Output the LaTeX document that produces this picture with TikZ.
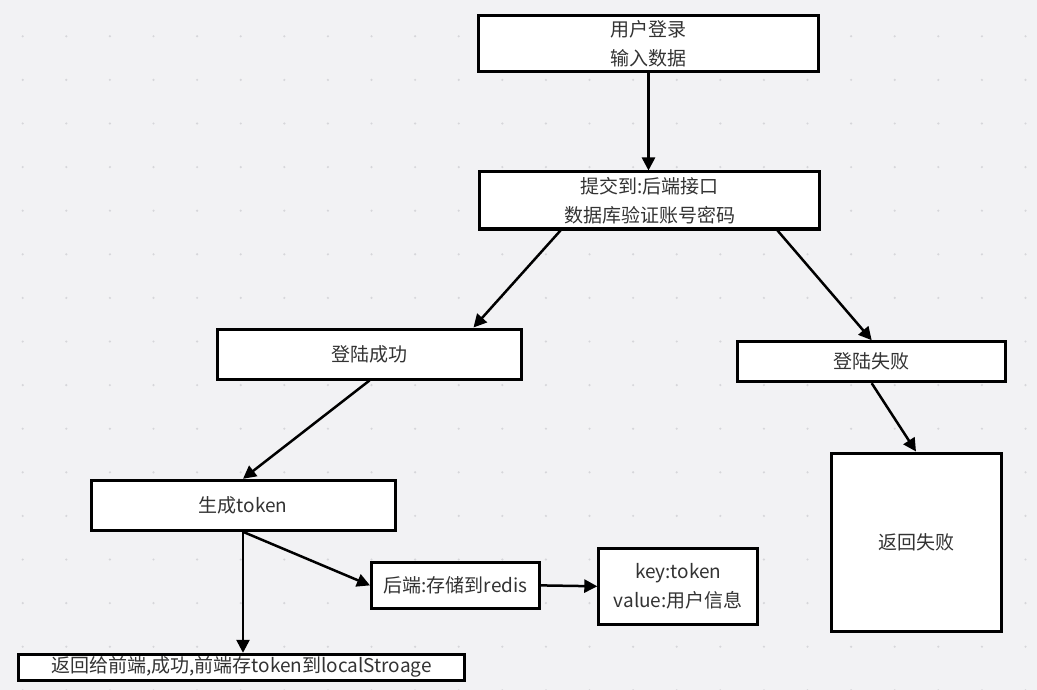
\documentclass[tikz,border=0pt]{standalone}
\usepackage{fontspec}
\setmainfont{Noto Sans CJK SC}
\usetikzlibrary{arrows.meta}
\definecolor{paper}{HTML}{F2F2F4}
\definecolor{dotgray}{HTML}{D6D6DA}
\definecolor{ink}{HTML}{333333}

\begin{document}
\begin{tikzpicture}[x=1pt,y=-1pt,>={Triangle[length=13pt,width=13pt]},
	box/.style={draw=black,fill=white,line width=3pt,inner sep=0pt,text=ink,align=center,font=\fontsize{19pt}{29pt}\selectfont},
	flow/.style={->,line width=2.5pt}]
	
	% The paper
	\fill[paper] (0,0) rectangle (1037,690);
	\useasboundingbox (0,0) rectangle (1037,690);
	
	% The dots
	\foreach \i in {0,...,23}
	{
		\foreach \j in {0,...,15}
		{
			\fill[dotgray] (22.7+43.6*\i,36.3+43.6*\j) circle(1.2pt);
		}
	}
	
	% The boxes
	\node[box,minimum width=340pt,minimum height=56pt] (login) at (648.5,43.5) {用户登录\\输入数据};
	\node[box,minimum width=340pt,minimum height=57pt] (submit) at (649.5,200.5) {提交到:后端接口\\数据库验证账号密码};
	\node[box,minimum width=304pt,minimum height=50pt] (ok) at (369.5,354) {登陆成功};
	\node[box,minimum width=268pt,minimum height=40pt] (fail) at (871.7,361.7) {登陆失败};
	\node[box,minimum width=304pt,minimum height=50pt] (token) at (243,505.3) {生成token};
	\node[box,minimum width=170pt,minimum height=178pt] (failret) at (916,542) {返回失败};
	\node[box,minimum width=168pt,minimum height=46pt] (redis) at (455.5,585.4) {后端:存储到redis};
	\node[box,minimum width=159pt,minimum height=76pt] (kv) at (678.3,586.3) {key:token\\value:用户信息};
	\node[box,minimum width=446pt,minimum height=26pt] (back) at (241.5,667.3) {返回给前端,成功,前端存token到localStroage};
	
	% The arrows
	\draw[flow] (login.south) -- (login.south |- submit.north);
	\draw[flow] ([xshift=-89pt]submit.south) -- ([xshift=104pt]ok.north);
	\draw[flow] ([xshift=128pt]submit.south) -- (fail.north);
	\draw[flow] (ok.south) -- (token.north);
	\draw[flow] (fail.south) -- (failret.north);
	\draw[flow] (token.south) -- (token.south |- back.north);
	\draw[flow] (token.south) -- (redis.west);
	\draw[flow] (redis.east) -- (kv.west);
	
\end{tikzpicture}
\end{document}
